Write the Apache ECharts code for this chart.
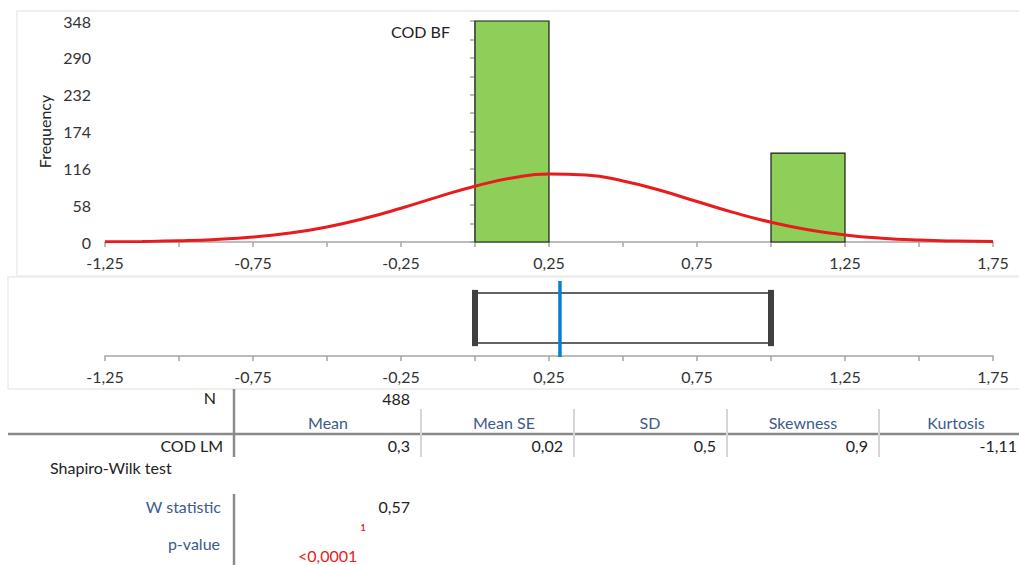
<!DOCTYPE html>
<html>
<head>
<meta charset="utf-8">
<title>COD BF – distribution</title>
<script src="https://cdn.jsdelivr.net/npm/echarts@6/dist/echarts.min.js"></script>
<style>
  html, body { margin: 0; padding: 0; background: #ffffff; }
  #chart { width: 1019px; height: 565px; }
</style>
</head>
<body>
<div id="chart"></div>
<script>
// Histogram bins (lower edge, upper edge) and frequencies
const binStart = [0.0, 1.0];
const binEnd = [0.25, 1.25];
const binCount = [348, 140];

// Fitted normal curve, sampled along the x axis
const curveX = [-1.25, -1.125, -1.0, -0.875, -0.75, -0.625, -0.5, -0.375, -0.25, -0.125,
                0.0, 0.125, 0.25, 0.375, 0.5, 0.625, 0.75, 0.875, 1.0, 1.125,
                1.25, 1.375, 1.5, 1.625, 1.75];
const curveY = [0.3, 0.8, 1.9, 4.0, 7.8, 14.1, 23.7, 36.9, 53.2, 71.1,
                87.9, 100.8, 107.1, 105.5, 96.2, 81.4, 63.7, 46.2, 31.1, 19.4,
                11.2, 6.0, 3.0, 1.4, 0.6];

// Box plot summary: box low / high edge and mean marker
const boxLow = 0.0;
const boxHigh = 1.0;
const boxMean = 0.287;

// Summary table
const sampleN = '488';
const rowLabel = 'COD LM';
const statNames = ['Mean', 'Mean SE', 'SD', 'Skewness', 'Kurtosis'];
const statValues = ['0,3', '0,02', '0,5', '0,9', '-1,11'];
const wStatistic = '0,57';
const pValue = '<0,0001';

const FONT = 'Lato, "Open Sans", sans-serif';
const FS = 16;
const AXIS_GREY = '#a6a6a6';
const HEAD_BLUE = '#3d5a8c';

function fmtX(v) {
  const k = (v + 1.25) / 0.5;
  if (Math.abs(k - Math.round(k)) > 1e-6) return '';
  return v.toFixed(2).replace('.', ',');
}

const xCommon = {
  type: 'value', min: -1.25, max: 1.75, interval: 0.25,
  axisLine: { onZero: false, lineStyle: { color: AXIS_GREY, width: 1.5 } },
  axisTick: { show: true, length: 5, lineStyle: { color: AXIS_GREY, width: 1.5 } },
  axisLabel: { formatter: fmtX, color: '#333', fontFamily: FONT, fontSize: FS, margin: 12, showMinLabel: true, showMaxLabel: true },
  splitLine: { show: false }
};

const chart = echarts.init(document.getElementById('chart'), null, { renderer: 'svg' });

const tableText = [];
function txt(x, y, s, opt) {
  tableText.push({
    type: 'text', silent: true,
    style: Object.assign({
      x: x, y: y, text: s, fill: '#222', font: FS + 'px ' + FONT,
      textAlign: 'right', textVerticalAlign: 'middle'
    }, opt || {})
  });
}
function line(x1, y1, x2, y2, color, w) {
  tableText.push({
    type: 'line', silent: true,
    shape: { x1: x1, y1: y1, x2: x2, y2: y2 },
    style: { stroke: color, lineWidth: w }
  });
}

// panel frames
tableText.push({ type: 'rect', silent: true, shape: { x: 17, y: 11, width: 1010, height: 265 },
  style: { fill: 'none', stroke: '#ebebeb', lineWidth: 1.5 } });
tableText.push({ type: 'rect', silent: true, shape: { x: 8, y: 277, width: 1020, height: 112 },
  style: { fill: 'none', stroke: '#ebebeb', lineWidth: 1.5 } });

// summary table rules
line(234, 389, 234, 457, '#8a8a8a', 2.5);
line(8, 434, 1019, 434, '#8a8a8a', 2.5);
[421, 574, 727, 879].forEach(x => line(x, 409, x, 457, '#d6d6d6', 2));
line(234, 494, 234, 565, '#8a8a8a', 2.5);

// summary table text
txt(216, 397, 'N');
txt(410, 398, sampleN);
const headX = [328, 504, 650, 803, 956];
statNames.forEach((s, i) => txt(headX[i], 422, s, { textAlign: 'center', fill: HEAD_BLUE }));
txt(223, 445, rowLabel);
const valX = [410, 563, 716, 868, 1017];
statValues.forEach((s, i) => txt(valX[i], 445, s));
txt(50, 467, 'Shapiro-Wilk test', { textAlign: 'left' });
txt(221, 506, 'W statistic', { fill: HEAD_BLUE });
txt(410, 506, wStatistic);
txt(363, 527, '1', { textAlign: 'center', fill: '#e82020', font: 'bold 9px ' + FONT });
txt(220, 543, 'p-value', { fill: HEAD_BLUE });
txt(298, 555, pValue, { textAlign: 'left', fill: '#e82020' });

const histData = binStart.map((s, i) => [s, binEnd[i], binCount[i]]);

chart.setOption({
  animation: false,
  backgroundColor: '#ffffff',
  title: {
    text: 'COD BF', left: 386, top: 18,
    textStyle: { fontFamily: FONT, fontSize: FS, fontWeight: 'normal', color: '#222' }
  },
  grid: [
    { left: 105, top: 21, width: 888, height: 221 },
    { left: 105, top: 280, width: 888, height: 76 }
  ],
  xAxis: [
    Object.assign({ gridIndex: 0 }, xCommon),
    Object.assign({ gridIndex: 1 }, xCommon)
  ],
  yAxis: [
    {
      gridIndex: 0, type: 'value', min: 0, max: 348, interval: 58,
      name: 'Frequency', nameLocation: 'middle', nameGap: 50, nameRotate: 90,
      nameTextStyle: { fontFamily: FONT, fontSize: FS, color: '#222' },
      axisLine: { show: true, lineStyle: { color: AXIS_GREY, width: 1.5 } },
      axisTick: { show: true, length: 5, lineStyle: { color: AXIS_GREY, width: 1.5 } },
      minorTick: { show: true, splitNumber: 2, length: 5, lineStyle: { color: AXIS_GREY, width: 1.5 } },
      axisLabel: { color: '#333', fontFamily: FONT, fontSize: FS, margin: 14 },
      splitLine: { show: false }
    },
    { gridIndex: 1, type: 'value', min: 0, max: 1, show: false }
  ],
  series: [
    {
      type: 'custom', xAxisIndex: 0, yAxisIndex: 0, data: histData, z: 2,
      renderItem: function (params, api) {
        const p0 = api.coord([api.value(0), api.value(2)]);
        const p1 = api.coord([api.value(1), 0]);
        return {
          type: 'rect',
          shape: { x: p0[0], y: p0[1], width: p1[0] - p0[0], height: p1[1] - p0[1] },
          style: { fill: '#8ecf5a', stroke: '#1a1a1a', lineWidth: 1.2 }
        };
      }
    },
    {
      type: 'line', xAxisIndex: 0, yAxisIndex: 0, smooth: true, showSymbol: false, z: 3,
      data: curveX.map((x, i) => [x, curveY[i]]),
      lineStyle: { color: '#e81c1c', width: 3 }
    },
    {
      type: 'custom', xAxisIndex: 1, yAxisIndex: 1, data: [[boxLow, boxHigh, boxMean]],
      renderItem: function (params, api) {
        const lo = api.coord([api.value(0), 0.83]);
        const hi = api.coord([api.value(1), 0.17]);
        const wTop = api.coord([api.value(0), 0.87])[1];
        const wBot = api.coord([api.value(0), 0.13])[1];
        const m = api.coord([api.value(2), 1])[0];
        const top = api.coord([0, 1])[1];
        const bot = api.coord([0, 0])[1];
        return {
          type: 'group',
          children: [
            { type: 'rect', shape: { x: lo[0], y: lo[1], width: hi[0] - lo[0], height: hi[1] - lo[1] },
              style: { fill: 'none', stroke: '#333', lineWidth: 1.5 } },
            { type: 'line', shape: { x1: lo[0], y1: wTop, x2: lo[0], y2: wBot },
              style: { stroke: '#404040', lineWidth: 6 } },
            { type: 'line', shape: { x1: hi[0], y1: wTop, x2: hi[0], y2: wBot },
              style: { stroke: '#404040', lineWidth: 6 } },
            { type: 'line', shape: { x1: m, y1: top + 1, x2: m, y2: bot + 1 },
              style: { stroke: '#0a7fd0', lineWidth: 3.5 } }
          ]
        };
      }
    }
  ],
  graphic: tableText
});
</script>
</body>
</html>
